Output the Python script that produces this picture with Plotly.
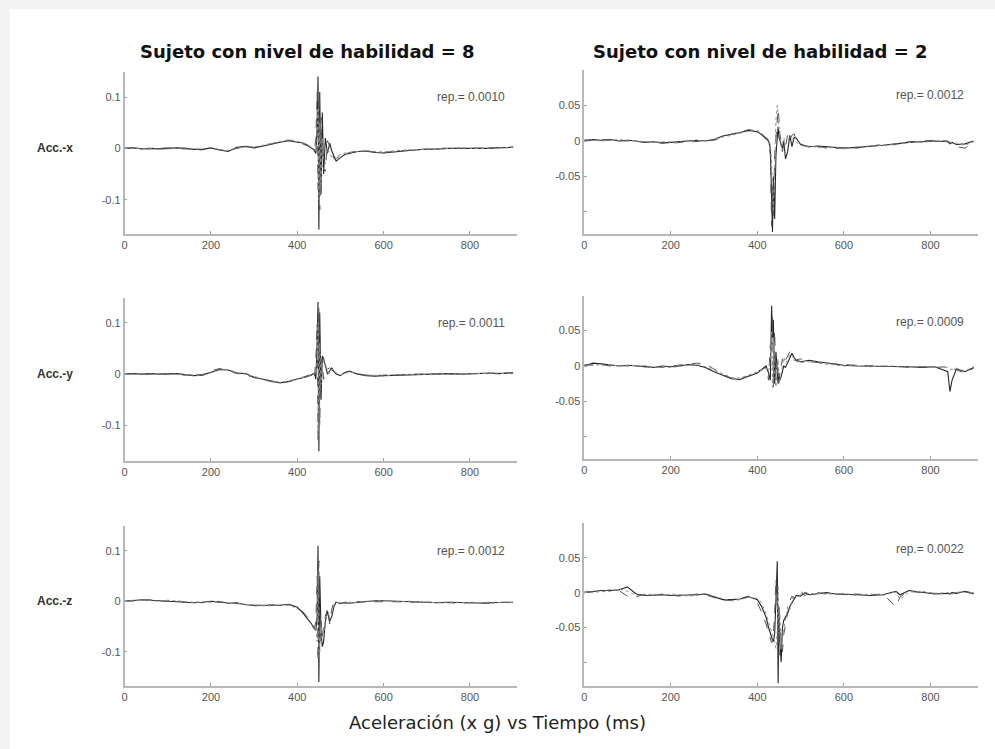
import plotly.graph_objects as go

W, H = 995, 749

# time grid (ms)
T = [0, 20, 40, 60, 80, 100, 120, 140, 160, 180,
     200, 220, 240, 260, 280, 300, 320, 340, 360, 380,
     400, 410, 420, 426, 430, 433, 435, 437, 440, 443,
     446, 448, 450, 452, 455, 458, 461, 465, 470, 475,
     480, 485, 490, 500, 510, 520, 540, 560, 580, 600,
     630, 660, 690, 720, 730, 750, 780, 810, 840, 845,
     850, 860, 880, 900]

# ---- Acc.-x, skill 8 ----
accx_s8_a = [0, .001, -.001, 0, -.001, 0, .001, 0, -.002, -.002,
             .001, -.003, -.006, .002, .004, .001, .004, .008, .012, .015,
             .012, .011, .008, .005, .003, .001, 0, -.002, -.005, -.01,
             .04, .14, -.158, .11, -.09, .07, -.05, .02, -.01, .01,
             -.005, -.015, -.025, -.018, -.012, -.01, -.006, -.005, -.008, -.009,
             -.006, -.004, -.002, -.002, -.001, 0, 0, -.001, 0, .001,
             0, .001, .002, .002]
accx_s8_b = [.001, 0, 0, -.001, 0, .001, 0, -.001, -.001, -.003,
             0, -.002, -.005, 0, .003, .002, .005, .009, .013, .016,
             .013, .010, .007, .004, .002, 0, -.001, -.003, -.003, .02,
             .11, -.08, .09, -.12, .06, -.03, -.04, -.045, .015, .005,
             -.01, -.02, -.02, -.014, -.01, -.008, -.005, -.006, -.007, -.008,
             -.005, -.003, -.002, -.001, 0, .001, 0, 0, .001, 0,
             .001, .002, .001, .003]
accx_s8_c = [0, 0, .001, 0, -.002, -.001, 0, .001, -.001, -.001,
             .002, -.002, -.004, .001, .003, .003, .006, .01, .014, .017,
             .014, .012, .009, .006, .004, .002, .001, 0, -.002, -.004,
             .02, .08, -.1, .05, -.07, .02, -.02, -.03, 0, -.01,
             -.018, -.022, -.016, -.012, -.009, -.008, -.006, -.004, -.006, -.007,
             -.004, -.003, -.001, -.001, 0, 0, .001, 0, 0, .001,
             0, .001, .001, .002]

# ---- Acc.-x, skill 2 ----
accx_s2_a = [.001, .002, .001, .002, 0, .001, 0, -.002, -.001, -.003,
             -.002, -.001, 0, .001, 0, .002, .007, .009, .012, .015,
             .013, .009, .004, 0, -.01, -.07, -.128, -.05, -.11, -.02,
             .01, .02, .005, 0, -.005, -.01, 0, -.025, -.015, .008,
             -.008, .005, .004, -.005, -.006, -.008, -.007, -.008, -.01, -.01,
             -.009, -.008, -.006, -.004, -.003, -.002, -.001, 0, -.001, -.004,
             -.002, -.005, -.004, 0]
accx_s2_b = [0, .001, .002, .001, .001, 0, -.001, -.001, -.002, -.002,
             -.003, -.002, -.001, 0, .001, .001, .006, .01, .013, .016,
             .014, .01, .005, .001, -.02, -.12, -.06, -.11, -.02, .01,
             .03, .045, .03, .01, 0, -.015, -.005, -.01, .01, .002,
             .008, .01, .002, -.004, -.007, -.009, -.008, -.009, -.011, -.009,
             -.01, -.007, -.005, -.005, -.002, -.001, 0, .001, 0, -.002,
             -.003, -.008, -.01, -.002]
accx_s2_c = [.002, .001, 0, .001, .002, .001, 0, -.001, -.002, -.001,
             -.001, -.002, 0, 0, .001, .003, .005, .008, .011, .014,
             .015, .011, .006, .002, -.005, -.03, -.09, -.1, -.04, .03,
             .05, .035, .015, .005, -.008, -.005, .005, -.005, 0, .006,
             .003, .002, -.002, -.006, -.008, -.007, -.009, -.01, -.009, -.011,
             -.008, -.007, -.007, -.005, -.004, -.002, -.002, 0, 0, -.001,
             -.004, -.003, -.006, -.001]

# ---- Acc.-y, skill 8 ----
accy_s8_a = [0, .001, 0, .001, 0, 0, .001, -.001, -.003, -.002,
             .004, .009, .008, .002, .001, -.006, -.01, -.014, -.017, -.014,
             -.01, -.008, -.005, -.004, -.002, -.002, 0, 0, .002, -.01,
             .06, .14, -.15, .12, -.05, .035, .03, .015, 0, .006,
             .012, .005, 0, -.003, .003, .006, 0, -.003, -.004, -.003,
             -.002, -.001, -.001, 0, 0, .001, 0, .001, .002, .001,
             .002, .001, .002, .002]
accy_s8_b = [.001, 0, 0, 0, .001, -.001, 0, -.002, -.002, -.001,
             .006, .011, .007, .001, -.001, -.007, -.011, -.015, -.018, -.015,
             -.011, -.007, -.004, -.003, -.001, 0, .002, .001, -.005, .03,
             .1, -.13, .13, -.1, .03, .02, -.01, .003, .01, .012,
             .008, .004, .002, 0, .002, .005, .001, -.002, -.003, -.002,
             -.002, 0, 0, .001, 0, 0, .001, .001, .001, .002,
             .001, .002, .002, .003]
accy_s8_c = [0, 0, .001, 0, 0, .001, 0, -.001, -.002, -.003,
             .003, .008, .009, .003, 0, -.005, -.009, -.013, -.016, -.013,
             -.009, -.007, -.006, -.005, -.003, -.001, 0, -.001, .001, 0,
             .03, .1, -.12, .06, -.02, .01, .025, .02, .005, .002,
             .01, .008, .003, -.002, .001, .004, .001, -.002, -.002, -.004,
             -.001, -.001, 0, 0, .001, 0, 0, .001, .001, .001,
             .002, .002, .001, .002]

# ---- Acc.-y, skill 2 ----
accy_s2_a = [0, .004, .003, .001, 0, .001, 0, -.001, -.002, 0,
             -.001, 0, .002, .001, -.002, -.008, -.013, -.018, -.019, -.015,
             -.01, -.005, 0, -.01, -.02, .085, .04, .065, -.025, .02,
             -.01, -.025, -.01, -.02, -.015, -.005, 0, -.002, .005, .012,
             .018, .012, .008, .006, .007, .008, .006, .004, .003, .001,
             0, 0, -.001, -.001, 0, -.001, -.002, -.001, -.008, -.036,
             -.02, -.004, -.008, -.002]
accy_s2_b = [.002, .001, .002, 0, .001, 0, -.001, 0, -.001, -.002,
             0, .001, .003, .004, .003, -.005, -.012, -.017, -.018, -.014,
             -.008, -.004, -.002, -.02, .03, .02, .07, -.03, .05, -.02,
             .01, -.01, -.025, -.005, 0, .01, .002, .008, .015, .02,
             .01, .008, .009, .01, .008, .006, .005, .004, .002, .002,
             .001, 0, 0, -.001, -.001, -.002, -.001, -.002, -.001, -.002,
             -.003, -.006, -.01, -.003]
accy_s2_c = [0, .002, .001, .002, 0, 0, .001, -.002, -.001, -.001,
             -.002, -.001, .001, .002, -.001, -.006, -.011, -.016, -.017, -.013,
             -.009, -.006, -.003, -.008, .01, .05, -.03, .04, -.01, -.03,
             0, .01, -.015, -.02, -.01, .005, .012, .004, .008, .016,
             .014, .01, .006, .005, .006, .006, .004, .003, .002, 0,
             .001, -.001, 0, 0, -.002, -.001, -.001, -.002, -.002, -.004,
             -.005, -.003, -.007, -.001]

# ---- Acc.-z, skill 8 ----
accz_s8_a = [0, .001, .003, .002, .001, .001, 0, -.001, -.003, -.002,
             0, -.001, -.004, -.003, -.007, -.008, -.008, -.008, -.008, -.006,
             -.012, -.02, -.03, -.036, -.04, -.045, -.048, -.052, -.055, -.058,
             -.03, .11, -.16, .05, -.06, -.09, -.08, -.04, -.02, -.04,
             -.03, -.01, -.002, -.004, -.003, -.004, -.002, 0, .001, .001,
             0, -.001, -.002, -.002, -.003, -.002, -.003, -.003, -.004, -.003,
             -.003, -.002, -.003, -.002]
accz_s8_b = [.001, 0, .002, .003, .001, 0, .001, -.002, -.002, -.003,
             -.001, -.002, -.003, -.004, -.006, -.009, -.009, -.007, -.009, -.007,
             -.01, -.018, -.027, -.033, -.038, -.042, -.046, -.05, -.052, -.04,
             .05, -.12, .08, -.1, -.04, -.07, -.05, -.03, -.015, -.045,
             -.015, 0, -.004, -.005, -.002, -.003, -.001, -.001, 0, 0,
             -.001, -.002, -.001, -.003, -.002, -.003, -.004, -.002, -.003, -.004,
             -.002, -.003, -.002, -.003]
accz_s8_c = [0, .002, .002, .001, 0, .002, 0, -.001, -.002, -.001,
             -.002, 0, -.003, -.005, -.006, -.007, -.009, -.009, -.007, -.008,
             -.014, -.022, -.032, -.038, -.042, -.046, -.05, -.054, -.05, -.06,
             -.08, .06, -.11, -.07, -.085, -.06, -.07, -.035, -.025, -.03,
             -.02, -.008, -.003, -.002, -.004, -.002, -.003, 0, 0, .001,
             -.001, 0, -.001, -.003, -.002, -.002, -.002, -.004, -.003, -.002,
             -.004, -.003, -.002, -.003]

# ---- Acc.-z, skill 2 ----
accz_s2_a = [0, .002, .003, .003, .004, .008, -.002, -.004, -.003, -.003,
             -.004, -.004, -.003, -.003, -.002, -.006, -.01, -.01, -.009, -.006,
             -.01, -.02, -.035, -.05, -.06, -.066, -.068, -.07, -.06, -.01,
             .045, -.13, -.02, -.07, -.1, -.05, -.04, -.035, -.03, -.02,
             -.015, -.01, -.004, -.005, 0, -.003, -.002, 0, -.002, -.002,
             -.003, -.004, -.003, .002, -.003, .003, .001, -.002, -.001, -.002,
             0, -.001, .002, -.001]
accz_s2_b = [.001, .001, .002, .004, .003, -.005, -.006, -.002, -.004, -.002,
             -.003, -.005, -.004, -.002, -.003, -.007, -.011, -.011, -.008, -.005,
             -.015, -.028, -.045, -.058, -.068, -.072, -.07, -.06, -.03, .02,
             -.02, -.06, -.09, -.05, -.065, -.085, -.06, -.045, -.025, -.012,
             -.005, -.008, -.002, .002, -.004, -.001, 0, -.002, -.001, -.003,
             -.002, -.003, -.002, -.02, -.006, .002, 0, -.001, -.002, -.001,
             -.001, 0, .001, -.002]
accz_s2_c = [0, .001, .002, .002, .005, .002, -.004, -.003, -.002, -.004,
             -.002, -.003, -.005, -.004, -.001, -.005, -.009, -.012, -.01, -.007,
             -.008, -.015, -.03, -.042, -.052, -.058, -.062, -.065, -.07, -.08,
             -.055, .01, -.06, -.03, -.08, -.065, -.05, -.04, -.02, -.025,
             -.01, -.003, -.006, -.002, .001, -.002, -.001, -.002, -.001, -.001,
             -.004, -.002, -.004, .001, -.01, .001, .002, -.001, 0, -.001,
             -.002, .001, .001, 0]

col_titles = ["Sujeto con nivel de habilidad = 8", "Sujeto con nivel de habilidad = 2"]
row_labels = ["Acc.-x", "Acc.-y", "Acc.-z"]
rep_values = [["rep.= 0.0010", "rep.= 0.0012"],
              ["rep.= 0.0011", "rep.= 0.0009"],
              ["rep.= 0.0012", "rep.= 0.0022"]]
x_ticks = [0, 200, 400, 600, 800]
left_yticks = [-0.1, 0, 0.1]
left_yticktext = ["-0.1", "0", "0.1"]
right_yticks = [-0.1, -0.05, 0, 0.05]
right_yticktext = ["", "-0.05", "0", "0.05"]
x_label = "Aceleración (x g) vs Tiempo (ms)"

series = [
    [[accx_s8_a, accx_s8_b, accx_s8_c], [accx_s2_a, accx_s2_b, accx_s2_c]],
    [[accy_s8_a, accy_s8_b, accy_s8_c], [accy_s2_a, accy_s2_b, accy_s2_c]],
    [[accz_s8_a, accz_s8_b, accz_s8_c], [accz_s2_a, accz_s2_b, accz_s2_c]],
]

# layout geometry (pixels)
col_x = [(122, 516), (583, 978)]
row_y = [[(72, 234), (70, 234)], [(298, 461), (296, 459)], [(526, 686), (523, 686)]]
yranges = [[(-0.167, 0.149), (-0.131, 0.100)],
           [(-0.169, 0.148), (-0.131, 0.0986)],
           [(-0.168, 0.149), (-0.134, 0.100)]]
rep_pos = [[(506, 97), (966, 95)], [(506, 323), (966, 322)], [(506, 551), (966, 549)]]
styles = [dict(color="#262626", width=1.1, dash="solid"),
          dict(color="#555555", width=1.0, dash="dash"),
          dict(color="#8f8f8f", width=1.0, dash="dot")]


def fx(px):
    return px / W


def fy(py):
    return 1 - py / H


fig = go.Figure()
layout = {}
annotations = []
k = 0
for r in range(3):
    for c in range(2):
        k += 1
        xa = "x" if k == 1 else f"x{k}"
        ya = "y" if k == 1 else f"y{k}"
        for s, ys in enumerate(series[r][c]):
            fig.add_trace(go.Scatter(x=T, y=ys, mode="lines", line=styles[s],
                                     xaxis=xa, yaxis=ya, showlegend=False,
                                     hoverinfo="skip"))
        x0, x1 = col_x[c]
        y0, y1 = row_y[r][c]
        axis_common = dict(showline=True, linecolor="#b8b8b8", linewidth=1.5,
                           ticks="inside", ticklen=3, tickcolor="#a0a0a0",
                           showgrid=False, zeroline=False,
                           tickfont=dict(family="Liberation Sans, Arial", size=11, color="#555555"))
        layout["xaxis" if k == 1 else f"xaxis{k}"] = dict(
            domain=[fx(x0), fx(x1)], range=[0, 910], anchor=ya,
            tickvals=x_ticks, ticktext=[str(v) for v in x_ticks], **axis_common)
        yt = left_yticks if c == 0 else right_yticks
        ytt = left_yticktext if c == 0 else right_yticktext
        layout["yaxis" if k == 1 else f"yaxis{k}"] = dict(
            domain=[fy(y1), fy(y0)], range=list(yranges[r][c]), anchor=xa,
            tickvals=yt, ticktext=ytt, **axis_common)
        rx, ry = rep_pos[r][c]
        annotations.append(dict(text=rep_values[r][c], x=fx(rx), y=fy(ry),
                                xref="paper", yref="paper", xanchor="right", yanchor="middle",
                                showarrow=False,
                                font=dict(family="Liberation Sans, Arial", size=12, color="#555555")))

for c, (t, cx) in enumerate(zip(col_titles, [305, 760])):
    annotations.append(dict(text=f"<b>{t}</b>", x=fx(cx), y=fy(52), xref="paper", yref="paper",
                            xanchor="center", yanchor="middle", showarrow=False,
                            font=dict(family="DejaVu Sans", size=18, color="#111111")))

for r, (lab, py) in enumerate(zip(row_labels, [148, 374, 601])):
    annotations.append(dict(text=f"<b>{lab}</b>", x=fx(52), y=fy(py), xref="paper", yref="paper",
                            xanchor="center", yanchor="middle", showarrow=False,
                            font=dict(family="Liberation Sans, Arial", size=12, color="#333333")))

annotations.append(dict(text=x_label, x=fx(496), y=fy(722), xref="paper", yref="paper",
                        xanchor="center", yanchor="middle", showarrow=False,
                        font=dict(family="DejaVu Sans", size=18, color="#222222")))

fig.update_layout(
    width=W, height=H,
    margin=dict(l=0, r=0, t=0, b=0),
    paper_bgcolor="#f3f3f3",
    plot_bgcolor="rgba(0,0,0,0)",
    annotations=annotations,
    shapes=[dict(type="rect", xref="paper", yref="paper", x0=fx(7), x1=1, y0=0, y1=fy(9),
                 fillcolor="#ffffff", line=dict(width=0), layer="below")],
    **layout,
)

fig.write_html("out.html", config={"displayModeBar": False},
               post_script="document.body.style.margin='0';document.body.style.overflow='hidden';")
